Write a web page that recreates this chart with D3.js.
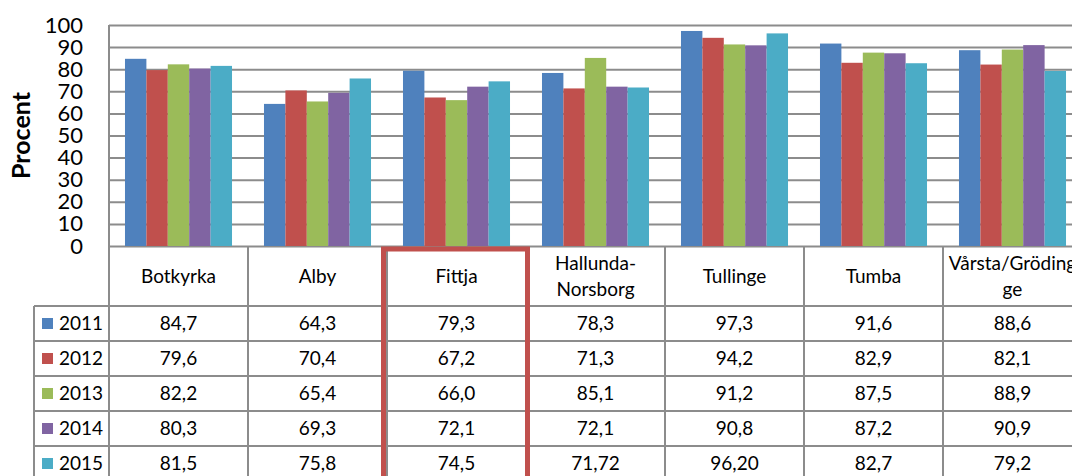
<!DOCTYPE html>
<html>
<head>
<meta charset="utf-8">
<script src="https://cdn.jsdelivr.net/npm/d3@7"></script>
<style>
  body { margin: 0; background: #fff; }
  svg { display: block; font-family: Lato, "Open Sans", sans-serif; }
</style>
</head>
<body>
<svg id="chart"></svg>
<script>
var width = 1072;
var height = 476;

// categories (column headers, split on lines like the table shows them)
var areas = ["Botkyrka", "Alby", "Fittja", "Hallunda-Norsborg", "Tullinge", "Tumba", "Vårsta/Gröding ge"];
var areaLines = [["Botkyrka"], ["Alby"], ["Fittja"], ["Hallunda-", "Norsborg"], ["Tullinge"], ["Tumba"], ["Vårsta/Gröding", "ge"]];
var years = ["2011", "2012", "2013", "2014", "2015"];
var colors = ["#4f81bd", "#c0504d", "#9bbb59", "#8064a2", "#4bacc6"];

// values as written in the data table
var v2011 = ["84,7", "64,3", "79,3", "78,3", "97,3", "91,6", "88,6"];
var v2012 = ["79,6", "70,4", "67,2", "71,3", "94,2", "82,9", "82,1"];
var v2013 = ["82,2", "65,4", "66,0", "85,1", "91,2", "87,5", "88,9"];
var v2014 = ["80,3", "69,3", "72,1", "72,1", "90,8", "87,2", "90,9"];
var v2015 = ["81,5", "75,8", "74,5", "71,72", "96,20", "82,7", "79,2"];
var series = [v2011, v2012, v2013, v2014, v2015];

var yTicks = [0, 10, 20, 30, 40, 50, 60, 70, 80, 90, 100];
var highlight = "Fittja";

var plotLeft = 109, plotRight = 1082, plotTop = 25, plotBottom = 246;
var headerH = 60, rowH = 35, tableLeft = 34;
var gridColor = "#8c8c8c";

var num = s => +s.replace(",", ".");

var svg = d3.select("#chart")
  .attr("width", width)
  .attr("height", height);

var x0 = d3.scaleBand()
  .domain(areas)
  .range([plotLeft, plotRight])
  .paddingInner(0.23)
  .paddingOuter(0.115);

var x1 = d3.scaleBand()
  .domain(years)
  .range([0, x0.bandwidth()]);

var y = d3.scaleLinear()
  .domain([0, 100])
  .range([plotBottom, plotTop]);

// gridlines
var grid = svg.append("g")
  .attr("transform", "translate(" + plotLeft + ",0)")
  .call(d3.axisLeft(y).tickValues(yTicks).tickSize(-(plotRight - plotLeft)).tickFormat(""));
grid.select(".domain").remove();
grid.selectAll(".tick line")
  .attr("stroke", gridColor)
  .attr("stroke-width", 2);

// y labels
var yAxis = svg.append("g")
  .attr("transform", "translate(" + (plotLeft - 26) + ",0)")
  .call(d3.axisLeft(y).tickValues(yTicks).tickSize(0).tickPadding(0));
yAxis.select(".domain").remove();
yAxis.selectAll("text")
  .attr("fill", "#000")
  .style("font-family", "Lato, sans-serif")
  .style("font-size", "22px");

svg.append("text")
  .attr("transform", "rotate(-90)")
  .attr("x", -(plotTop + plotBottom) / 2)
  .attr("y", 21)
  .attr("dy", "0.35em")
  .style("text-anchor", "middle")
  .style("font-weight", "bold")
  .style("font-size", "25px")
  .text("Procent");

// bars
var groups = svg.append("g")
  .selectAll("g")
  .data(series)
  .enter()
  .append("g")
    .attr("fill", (d, i) => colors[i]);

groups.selectAll("rect")
  .data((d, i) => d.map((v, j) => ({ area: areas[j], year: years[i], value: num(v) })))
  .enter()
  .append("rect")
    .attr("x", d => x0(d.area) + x1(d.year))
    .attr("y", d => y(d.value))
    .attr("width", x1.bandwidth())
    .attr("height", d => plotBottom - y(d.value));

// data table
var step = x0.step();
var tableBottom = plotBottom + headerH + rowH * years.length;
var lines = svg.append("g")
  .attr("stroke", gridColor)
  .attr("stroke-width", 2);

// vertical column lines
lines.selectAll(".vcol")
  .data(d3.range(areas.length + 1))
  .enter()
  .append("line")
    .attr("x1", i => plotLeft + i * step)
    .attr("x2", i => plotLeft + i * step)
    .attr("y1", i => i == 0 ? plotTop : plotBottom)
    .attr("y2", tableBottom);

lines.append("line")
  .attr("x1", tableLeft).attr("x2", tableLeft)
  .attr("y1", plotBottom + headerH).attr("y2", tableBottom);

lines.selectAll(".hrow")
  .data(d3.range(years.length + 1))
  .enter()
  .append("line")
    .attr("x1", tableLeft)
    .attr("x2", plotRight)
    .attr("y1", i => plotBottom + headerH + i * rowH)
    .attr("y2", i => plotBottom + headerH + i * rowH);

// header labels
var heads = svg.append("g")
  .selectAll("text")
  .data(areas)
  .enter()
  .append("text")
    .attr("x", d => x0(d) + x0.bandwidth() / 2)
    .attr("y", plotBottom + headerH / 2)
    .style("text-anchor", "middle")
    .style("font-size", "19px");

heads.selectAll("tspan")
  .data((d, i) => areaLines[i].map((t, k, a) => ({ t: t, dy: (k - (a.length - 1) / 2) * 26 })))
  .enter()
  .append("tspan")
    .attr("x", function() { return this.parentNode.getAttribute("x"); })
    .attr("y", d => plotBottom + headerH / 2 + d.dy)
    .attr("dy", "0.35em")
    .text(d => d.t);

// rows
var rows = svg.append("g")
  .selectAll("g")
  .data(series)
  .enter()
  .append("g")
    .attr("transform", (d, i) => "translate(0," + (plotBottom + headerH + i * rowH + rowH / 2) + ")");

rows.append("rect")
  .attr("x", 42)
  .attr("y", -5.5)
  .attr("width", 11)
  .attr("height", 11)
  .attr("fill", (d, i) => colors[i]);

rows.append("text")
  .attr("x", 59)
  .attr("dy", "0.35em")
  .style("font-size", "19px")
  .text((d, i) => years[i]);

rows.selectAll(".val")
  .data(d => d)
  .enter()
  .append("text")
    .attr("x", (d, j) => x0(areas[j]) + x0.bandwidth() / 2)
    .attr("dy", "0.35em")
    .style("text-anchor", "middle")
    .style("font-size", "19px")
    .text(d => d);

// highlight box round Fittja
svg.append("rect")
  .attr("x", x0(highlight) - x0.step() * x0.paddingInner() / 2 - 3.5)
  .attr("y", plotBottom + 3)
  .attr("width", step + 5)
  .attr("height", 240)
  .attr("fill", "none")
  .attr("stroke", "#c0504d")
  .attr("stroke-width", 5);
</script>
</body>
</html>
